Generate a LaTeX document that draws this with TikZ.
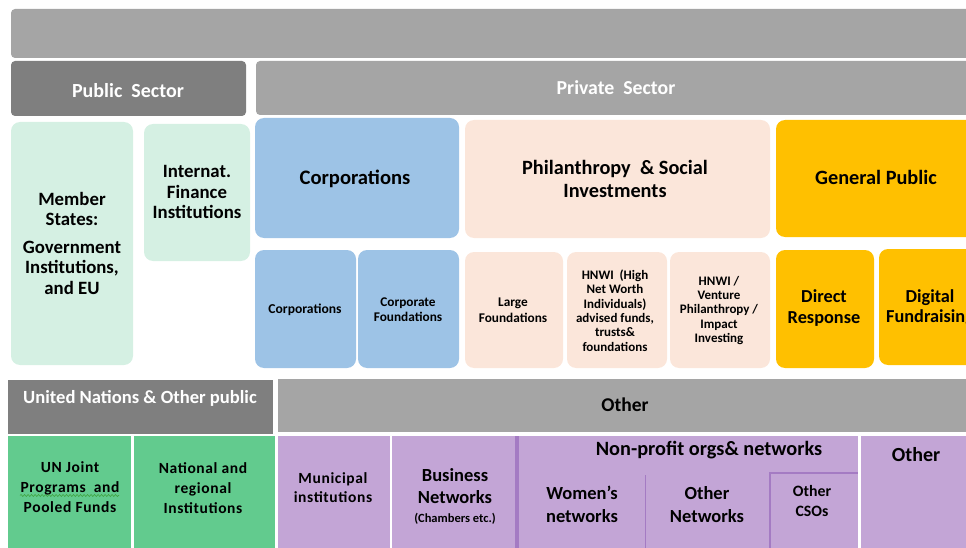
\documentclass[tikz,border=0pt]{standalone}
\usepackage{fontspec}
\setmainfont{Carlito}
\usetikzlibrary{decorations.pathmorphing}
\definecolor{grayL}{HTML}{A5A5A5}
\definecolor{grayD}{HTML}{7F7F7F}
\definecolor{mint}{HTML}{D5F0E3}
\definecolor{blueC}{HTML}{9DC3E6}
\definecolor{peach}{HTML}{FBE6DA}
\definecolor{gold}{HTML}{FFC000}
\definecolor{greenM}{HTML}{62CB8E}
\definecolor{purp}{HTML}{C3A5D6}
\definecolor{purpD}{HTML}{A47BC3}
\definecolor{wavy}{HTML}{3FA33F}
\newcommand{\fsz}[2]{\fontsize{#1}{#2}\selectfont\bfseries}
\newcommand{\spc}{\addfontfeature{LetterSpace=4}}
\tikzset{
  txt/.style={align=center, inner sep=0pt, text=black},
  wtxt/.style={align=center, inner sep=0pt, text=white},
  rbox/.style={rounded corners=9pt},
  sbar/.style={rounded corners=4pt},
}
\begin{document}
\begin{tikzpicture}[x=1pt,y=-1pt]
\path[use as bounding box] (0,0) rectangle (966,548);
\clip (0,0) rectangle (966,548);
% top rows
\fill[grayL, sbar] (11,9) rectangle (990,58);
\fill[grayD, sbar] (11,61) rectangle (246,116);
\fill[grayL, sbar] (256,61) rectangle (990,115);
% public sector boxes
\fill[mint, rbox] (11,122) rectangle (133,365);
\fill[mint, rbox] (144,124) rectangle (250,261);
% private sector upper
\fill[blueC, rbox] (255,118) rectangle (459,238);
\fill[peach, rbox] (465,120) rectangle (770,238);
\fill[gold, rbox] (776,120) rectangle (995,237);
% private sector lower
\fill[blueC, rbox] (255,250) rectangle (356,368);
\fill[blueC, rbox] (358,250) rectangle (459,368);
\fill[peach, rbox] (465,252) rectangle (563,368);
\fill[peach, rbox] (567,252) rectangle (667,368);
\fill[peach, rbox] (670,252) rectangle (770,368);
\fill[gold, rbox] (776,250) rectangle (874,368);
\fill[gold, rbox] (879,249) rectangle (995,365);
% bottom headers
\fill[grayD] (8,380) rectangle (273,434);
\fill[grayL] (278,379) rectangle (990,432);
% bottom boxes
\fill[greenM] (8,436) rectangle (131,560);
\fill[greenM] (134,436) rectangle (275,560);
\fill[purp] (278,436) rectangle (390,560);
\fill[purp] (392,436) rectangle (515,560);
\fill[purp] (518,436) rectangle (858,560);
\fill[purpD] (515,436) rectangle (518.5,560);
\draw[purpD, line width=0.8pt] (645,475) -- (645,560);
\draw[purpD, line width=1.6pt] (770,560) -- (770,473) -- (858,473);
\fill[purp] (861,436) rectangle (990,560);

% texts
\node[wtxt, font=\fsz{20}{21}] (pub) at (128,91) {Public\ \ Sector};
\node[wtxt, font=\fsz{19.8}{21}] (priv) at (616,88) {Private\ \ Sector};
\node[txt, font=\fsz{18.8}{20.5}] (member) at (72,243) {Member\\States:\\[7pt]Government\\Institutions,\\and EU};
\node[txt, font=\fsz{18.8}{20.5}] (ifi) at (197,192) {Internat.\\Finance\\Institutions};
\node[txt, font=\fsz{20.6}{22}] (corp) at (355,179) {Corporations};
\node[txt, font=\fsz{20.3}{23}] (phil) at (615,178.5) {Philanthropy\ \ \& Social\\Investments};
\node[txt, font=\fsz{20.3}{22}] (genpub) at (876,177) {General Public};
\node[txt, font=\fsz{13.6}{15}] (corps) at (305,310) {Corporations};
\node[txt, font=\fsz{13.3}{15}] (corpf) at (408,309.5) {Corporate\\Foundations};
\node[txt, font=\fsz{13.3}{15.5}] (large) at (513,310) {Large\\Foundations};
\node[txt, font=\fsz{13}{14.3}] (hnwi) at (615,310.5) {HNWI\ \ (High\\Net Worth\\Individuals)\\advised funds,\\trusts\&\\foundations};
\node[txt, font=\fsz{13}{14.3}] (vent) at (719,310.5) {HNWI\ /\\Venture\\Philanthropy /\\Impact\\Investing};
\node[txt, font=\fsz{18.3}{21}] (direct) at (824,308.5) {Direct\\Response};
\node[txt, font=\fsz{18.3}{20}] (digital) at (930,308) {Digital\\Fundraising};
\node[wtxt, font=\fsz{18.6}{20}] (un) at (140,398) {United Nations \& Other public};
\node[txt, font=\fsz{19.5}{21}] (other) at (625,405) {Other};
\node[txt, font=\fsz{15.5}{20}\spc] (unj) at (70,487) {UN Joint\\Programs\ \ and\\Pooled Funds};
\node[txt, font=\fsz{15.5}{20}\spc] (nat) at (203,488) {National and\\regional\\Institutions};
\node[txt, font=\fsz{15.5}{19}\spc] (muni) at (333,487.5) {Municipal\\institutions};
\node[txt, font=\fsz{18.5}{22}] (bus) at (455,486) {Business\\Networks};
\node[txt, font=\fsz{12.5}{14}] (busc) at (455,519) {(Chambers etc.)};
\node[txt, font=\fsz{20.3}{22}] (nonp) at (709,450) {Non-profit orgs\& networks};
\node[txt, font=\fsz{18.5}{23}] (women) at (582,504.5) {Women’s\\networks};
\node[txt, font=\fsz{18.5}{23}] (othnet) at (707,504.5) {Other\\Networks};
\node[txt, font=\fsz{15.8}{20}] (cso) at (812,501) {Other\\CSOs};
\node[txt, font=\fsz{20}{22}] (othr) at (916,455) {Other};
% spell-check underline
\coordinate (wa) at (20,495.5);
\coordinate (wb) at (119,495.5);
\draw[wavy, line width=0.6pt, decorate, decoration={snake, amplitude=1pt, segment length=3.5pt}] (wa) -- (wb);
\end{tikzpicture}
\end{document}
